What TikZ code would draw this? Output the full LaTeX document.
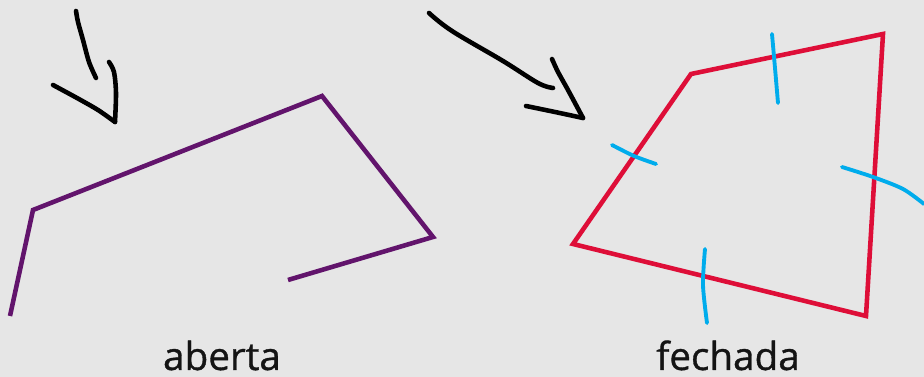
\documentclass[tikz,border=0pt]{standalone}
\usepackage{fontspec}
\setmainfont{Open Sans}
\newfontfamily\capfont[FakeBold=0.9]{Open Sans}
\usepackage{tikz}
\definecolor{bggrey}{RGB}{230,230,230}
\definecolor{darkpurple}{RGB}{98,20,108}
\definecolor{crimson}{RGB}{222,14,56}
\definecolor{skyblue}{RGB}{0,172,236}
\definecolor{inkgrey}{RGB}{20,20,20}

\begin{document}
\begin{tikzpicture}[x=0.02cm, y=-0.02cm, line cap=round, line join=round,
    pen/.style={line width=2.6pt, black},
    tick/.style={line width=2.2pt, skyblue},
    caption/.style={font=\capfont\fontsize{22}{26}\selectfont, text=inkgrey, anchor=base, inner sep=0pt}]
  \fill[bggrey] (0,0) rectangle (924,377);
  \useasboundingbox (0,0) rectangle (924,377);
  % open line
  \draw[darkpurple, line width=2.6pt, line cap=butt, line join=miter]
    (10,316) -- (33,210) -- (322,96) -- (433,237) -- (288,280);
  % closed line
  \draw[crimson, line width=2.6pt, line join=miter]
    (573,244) -- (691,74) -- (883,34) -- (866,316) -- cycle;
  % hand drawn arrows
  \draw[pen] plot[smooth, tension=0.5] coordinates {(76,11) (78,22) (83,40) (89,62) (96,78)};
  \draw[pen] plot[smooth, tension=0.5] coordinates {(53,85) (77,98) (98,110) (115,122)};
  \draw[pen] plot[smooth, tension=0.5] coordinates {(115,122) (116,93) (114,72) (109,62)};
  \draw[pen] plot[smooth, tension=0.6] coordinates {(429,13) (452,31) (503,61) (538,83) (553,88)};
  \draw[pen] plot[smooth, tension=0.5] coordinates {(526,106) (555,112) (583,118)};
  \draw[pen] plot[smooth, tension=0.5] coordinates {(583,118) (568,90) (558,72) (552,59)};
  % marks on the sides
  \draw[tick] plot[smooth] coordinates {(772,34) (775,68) (778,103)};
  \draw[tick] plot[smooth] coordinates {(612,145) (634,156) (656,164)};
  \draw[tick] plot[smooth] coordinates {(842,167) (873,177) (903,189) (924,204)};
  \draw[tick] plot[smooth] coordinates {(705,249) (703,285) (707,323)};
  \node[caption] (open) at (222,370) {aberta};
  \node[caption] (closed) at (728,370) {fechada};
\end{tikzpicture}
\end{document}
